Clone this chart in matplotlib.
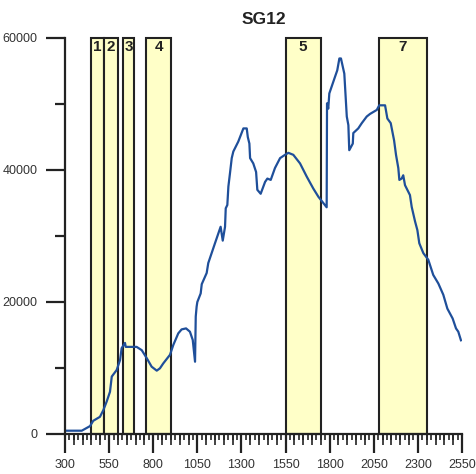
import matplotlib
matplotlib.use("Agg")
import matplotlib.pyplot as plt
from matplotlib.ticker import MultipleLocator

plt.rcParams['font.family'] = ['Liberation Sans', 'DejaVu Sans']

# reflectance spectrum for sample SG12
wavelength = [310, 395, 442, 460, 498, 517, 536, 555, 565, 593, 612, 621, 640, 644,
              706, 735, 763, 791, 820, 838, 857, 895, 914, 942, 961, 986, 1008, 1024,
              1037, 1041, 1046, 1050, 1069, 1075, 1103, 1112, 1131, 1150, 1182, 1194,
              1207, 1211, 1220, 1226, 1235, 1245, 1254, 1282, 1311, 1330, 1336, 1345,
              1349, 1367, 1383, 1390, 1409, 1434, 1447, 1466, 1490, 1519, 1547, 1566,
              1594, 1632, 1670, 1707, 1736, 1783, 1785, 1792, 1798, 1830, 1843, 1855,
              1864, 1883, 1897, 1906, 1911, 1931, 1934, 1962, 1982, 2010, 2029, 2067,
              2081, 2114, 2127, 2146, 2165, 2176, 2189, 2195, 2208, 2217, 2227, 2255,
              2265, 2284, 2297, 2308, 2331, 2359, 2387, 2416, 2444, 2467, 2497, 2516,
              2529, 2544]
reflectance = [500, 500, 1200, 2000, 2600, 3600, 4900, 6400, 8700, 9700, 11200, 13000, 13800, 13200,
               13200, 12700, 11500, 10200, 9600, 9950, 10700, 12000, 13500, 15250, 15850, 16000, 15500, 14250,
               10950, 17800, 19300, 20000, 21300, 22700, 24400, 25900, 27400, 28900, 31400, 29300,
               31400, 34200, 34700, 37500, 39500, 41800, 42800, 44300, 46300, 46300, 45000, 44000,
               41800, 41000, 39700, 37000, 36400, 38200, 38700, 38500, 40300, 41800, 42300, 42600,
               42300, 41000, 39000, 37200, 35950, 34350, 50100, 49300, 51600, 54100, 55100, 56900,
               56900, 54600, 48100, 46800, 43000, 44000, 45600, 46300, 47100, 48100, 48500, 49100,
               49800, 49800, 47800, 47100, 44500, 42300, 40300, 38500, 38700, 39200, 37700, 36200,
               34400, 32200, 30900, 28900, 27400, 26400, 24100, 22800, 21100, 19000, 17500, 16000,
               15500, 14200]

# Landsat TM band windows (nm)
band_names = ['1', '2', '3', '4', '5', '7']
band_start = [450, 520, 630, 760, 1550, 2080]
band_end = [520, 600, 690, 900, 1750, 2350]

fig = plt.figure(figsize=(4.76, 4.74), dpi=100)
ax = fig.add_axes([65 / 476, 1 - 434 / 474, 397 / 476, 396 / 474])

for name, lo, hi in zip(band_names, band_start, band_end):
    ax.axvspan(lo, hi, facecolor='#ffffc8', edgecolor='#222222', linewidth=1.5,
               clip_on=False, zorder=1)
    ax.text((lo + hi) / 2, 58700, name, ha='center', va='center',
            fontsize=11, fontweight='bold', color='#222222', zorder=3)

ax.plot(wavelength, reflectance, color='#1f4f9a', linewidth=1.6, zorder=2)

ax.set_xlim(300, 2550)
ax.set_ylim(0, 60000)
ax.set_title('SG12', fontsize=12.5, fontweight='bold', color='#222222', pad=10)

for side in ['top', 'right']:
    ax.spines[side].set_visible(False)
for side in ['left', 'bottom']:
    ax.spines[side].set_linewidth(1.6)
    ax.spines[side].set_color('#222222')

ax.set_xticks(range(300, 2551, 250))
ax.xaxis.set_minor_locator(MultipleLocator(25))
ax.set_yticks([0, 20000, 40000, 60000])
ax.yaxis.set_minor_locator(MultipleLocator(10000))
ax.tick_params(axis='both', which='major', length=14, width=1.6, color='#222222',
               labelsize=9, labelcolor='#333333')
ax.tick_params(axis='x', which='major', pad=4)
ax.tick_params(axis='y', which='major', pad=6)
ax.tick_params(axis='x', which='minor', length=4, width=1.2, color='#222222')
ax.tick_params(axis='y', which='minor', length=7, width=1.6, color='#222222')

# medium ticks every 50 nm
sec = ax.secondary_xaxis('bottom')
sec.set_xticks([v for v in range(350, 2550, 50) if (v - 300) % 250 != 0])
sec.tick_params(length=8, width=1.2, color='#222222', labelbottom=False)
sec.spines['bottom'].set_visible(False)

fig.savefig('out.png', dpi=100)
